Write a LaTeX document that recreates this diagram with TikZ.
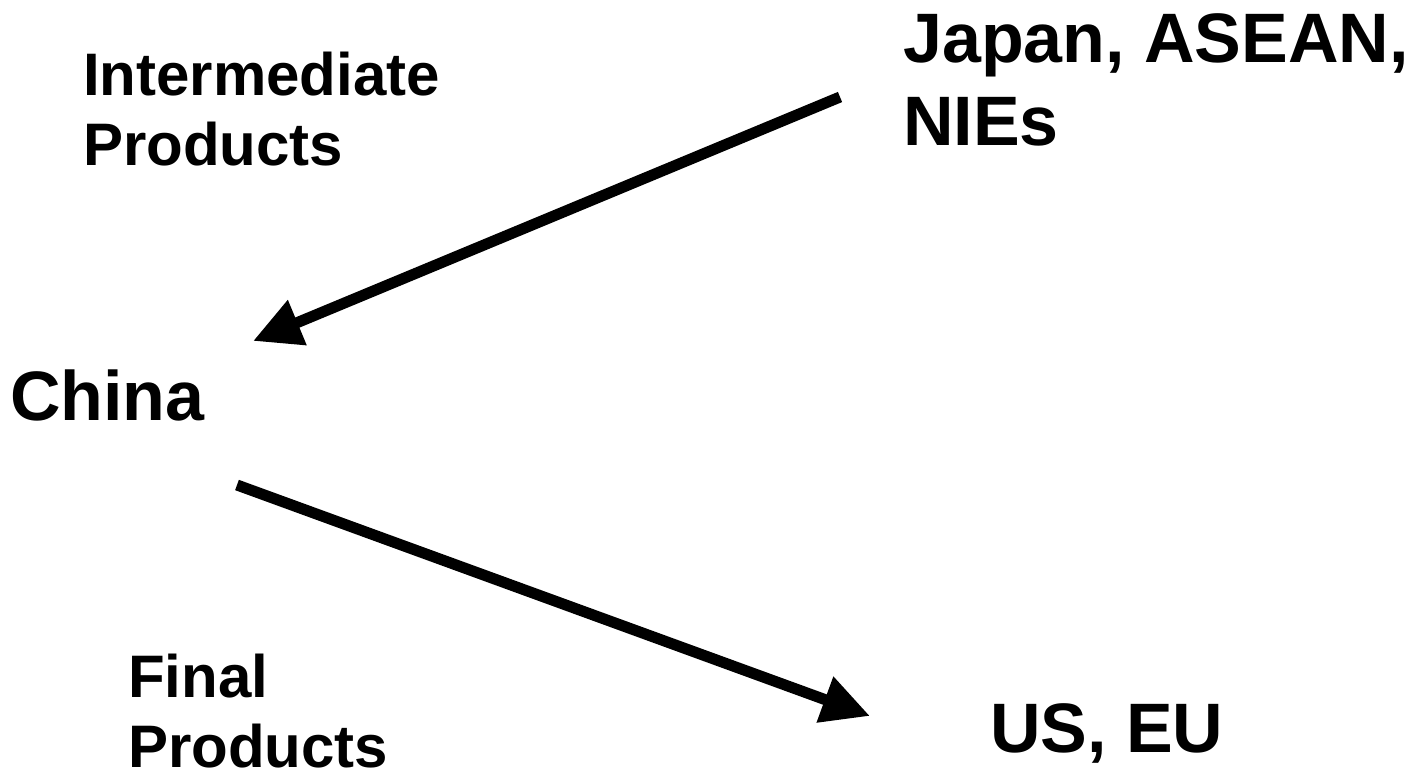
\documentclass[tikz,border=0pt]{standalone}
\usepackage{fontspec}
\setmainfont{Liberation Sans}
\usetikzlibrary{arrows.meta}
\tikzset{
  big/.style={font=\bfseries\fontsize{70}{83}\selectfont, inner sep=0pt, anchor=base west, align=left},
  small/.style={font=\bfseries\fontsize{60}{70}\selectfont, inner sep=0pt, anchor=base west, align=left},
  flow/.style={line width=11pt, -{Triangle[length=48pt,width=46pt]}}
}
\begin{document}
\begin{tikzpicture}[x=1pt,y=-1pt]
\useasboundingbox (0,0) rectangle (1424,771);
\node[big] (japan) at (903,145) {Japan, ASEAN,\\NIEs};
\node[small] (inter) at (83,165) {Intermediate\\Products};
\node[big] (china) at (10,420) {China};
\node[small] (final) at (128,767) {Final\\Products};
\node[big] (useu) at (990,752) {US, EU};
\coordinate (a1s) at (840,97);
\coordinate (a1e) at (253,341);
\coordinate (a2s) at (237,485);
\coordinate (a2e) at (870,716);
\draw[flow] (a1s) -- (a1e);
\draw[flow] (a2s) -- (a2e);
\end{tikzpicture}
\end{document}
